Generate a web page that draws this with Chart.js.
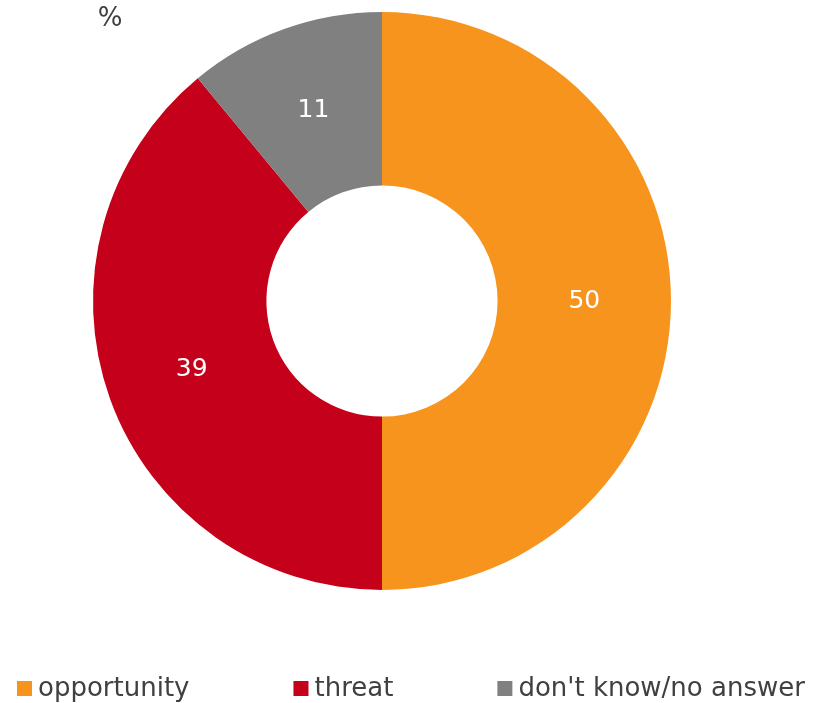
<!DOCTYPE html>
<html lang="en">
<head>
    <meta charset="UTF-8">
    <title>Opportunity or threat</title>
    <script src="https://cdn.jsdelivr.net/npm/chart.js"></script>
    <style>
        html, body { margin: 0; padding: 0; background: #fff; }
        .chart-container { width: 821px; height: 703px; position: relative; }
    </style>
</head>
<body>
    <div class="chart-container">
        <canvas id="pieChart"></canvas>
    </div>

    <script>
        const categories = ['opportunity', 'threat', "don't know/no answer"];
        const shares = [50, 39, 11];
        const colours = ['#F7941E', '#C5001A', '#808080'];
        const unitLabel = '%';

        const textFont = '"DejaVu Sans", Verdana, sans-serif';

        // white numbers on the slices
        const sliceLabels = {
            id: 'sliceLabels',
            afterDatasetsDraw(chart) {
                const ctx = chart.ctx;
                const meta = chart.getDatasetMeta(0);
                ctx.save();
                ctx.fillStyle = '#ffffff';
                ctx.font = '25px ' + textFont;
                ctx.textAlign = 'center';
                ctx.textBaseline = 'middle';
                meta.data.forEach((arc, i) => {
                    const p = arc.tooltipPosition();
                    ctx.fillText(String(shares[i]), p.x, p.y);
                });
                ctx.restore();
            }
        };

        // unit text top left + legend row along the bottom
        const extras = {
            id: 'extras',
            afterDraw(chart) {
                const ctx = chart.ctx;
                ctx.save();
                ctx.fillStyle = '#404040';
                ctx.font = '26px ' + textFont;
                ctx.textAlign = 'center';
                ctx.textBaseline = 'middle';
                ctx.fillText(unitLabel, 110, 19);

                // legend
                ctx.textAlign = 'left';
                let x = 17;
                const y = 689;
                chart.data.labels.forEach((lab, i) => {
                    ctx.fillStyle = chart.data.datasets[0].backgroundColor[i];
                    ctx.fillRect(x, y - 8, 15, 15);
                    ctx.fillStyle = '#404040';
                    ctx.fillText(lab, x + 21, y);
                    x += 21 + ctx.measureText(lab).width + 104;
                });
                ctx.restore();
            }
        };

        const ctx = document.getElementById('pieChart').getContext('2d');
        new Chart(ctx, {
            type: 'doughnut',
            data: {
                labels: categories,
                datasets: [{
                    data: shares,
                    backgroundColor: colours,
                    borderWidth: 0
                }]
            },
            options: {
                responsive: true,
                maintainAspectRatio: false,
                animation: false,
                cutout: '40%',
                layout: { padding: { top: 12, right: 57, left: 0, bottom: 113 } },
                plugins: {
                    tooltip: { enabled: false },
                    legend: { display: false }
                }
            },
            plugins: [sliceLabels, extras]
        });
    </script>
</body>
</html>
